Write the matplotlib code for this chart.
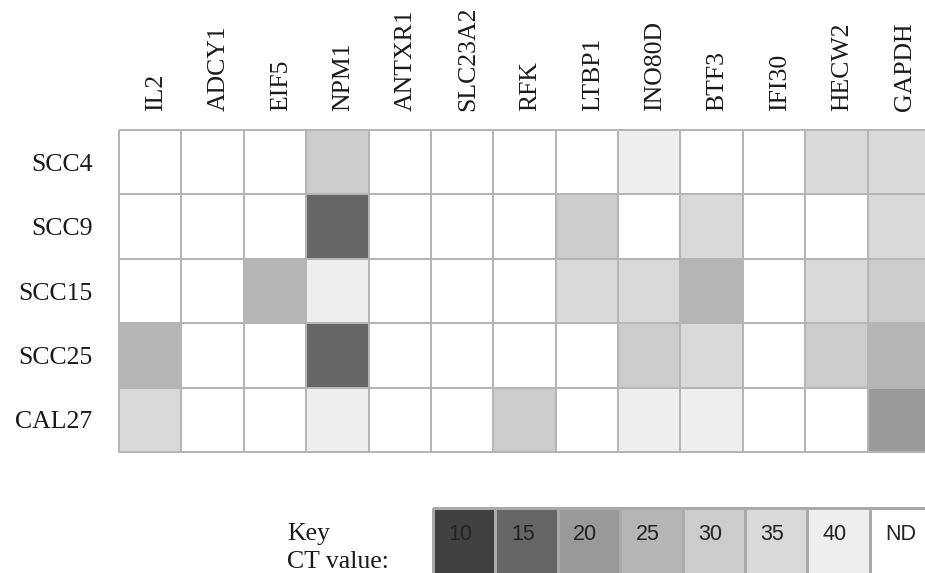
import numpy as np
import matplotlib
matplotlib.use("Agg")
import matplotlib.pyplot as plt
from matplotlib.colors import ListedColormap, BoundaryNorm
from matplotlib.transforms import ScaledTranslation

# Datos
genes = ["IL2", "ADCY1", "EIF5", "NPM1", "ANTXR1", "SLC23A2", "RFK",
         "LTBP1", "INO80D", "BTF3", "IFI30", "HECW2", "GAPDH"]
lineas = ["SCC4", "SCC9", "SCC15", "SCC25", "CAL27"]

# valores CT, None = ND (no detectado)
ct_scc4 = [None, None, None, 30, None, None, None, None, 40, None, None, 35, 35]
ct_scc9 = [None, None, None, 15, None, None, None, 30, None, 35, None, None, 35]
ct_scc15 = [None, None, 25, 40, None, None, None, 35, 35, 25, None, 35, 30]
ct_scc25 = [25, None, None, 15, None, None, None, None, 30, 35, None, 30, 25]
ct_cal27 = [35, None, None, 40, None, None, 30, None, 40, 40, None, None, 20]

key_valores = [10, 15, 20, 25, 30, 35, 40, "ND"]
key_colores = ["#414141", "#666666", "#999999", "#b5b5b5",
               "#cccccc", "#d9d9d9", "#eeeeee", "#ffffff"]

ND = 45
tabla = np.array([[ND if v is None else v for v in fila]
                  for fila in [ct_scc4, ct_scc9, ct_scc15, ct_scc25, ct_cal27]], dtype=float)

cmap = ListedColormap(key_colores)
norm = BoundaryNorm([7.5, 12.5, 17.5, 22.5, 27.5, 32.5, 37.5, 42.5, 47.5], cmap.N)

W, H = 925, 573
fig = plt.figure(figsize=(W / 100, H / 100), dpi=100)

serif = "Liberation Serif"
sans = "Liberation Sans"
borde = "#b5b5b5"

# Heatmap principal
ax = fig.add_axes([119 / W, 1 - 452 / H, 811 / W, 322 / H])
malla = ax.pcolormesh(tabla, cmap=cmap, norm=norm, edgecolors=borde, linewidth=1.2)
malla.set_clip_on(False)
ax.set_xlim(0, len(genes))
ax.set_ylim(len(lineas), 0)
for s in ax.spines.values():
    s.set_visible(False)

ax.set_yticks(np.arange(len(lineas)) + 0.5)
ax.set_yticklabels(lineas, fontfamily=serif, fontsize=18.5, color="#1a1a1a")
ax.set_xticks(np.arange(len(genes)) + 0.5)
ax.set_xticklabels(genes, rotation=90, fontfamily=serif, fontsize=18.5, color="#1a1a1a")
ax.tick_params(axis="x", length=0, pad=14, labelbottom=False, labeltop=True,
               bottom=False, top=False)
ax.tick_params(axis="y", length=0, pad=19)
desplaza = ScaledTranslation(6 / 100, 0, fig.dpi_scale_trans)
for lbl in ax.get_xticklabels():
    lbl.set_transform(lbl.get_transform() + desplaza)

# Leyenda (Key)
axk = fig.add_axes([433 / W, 1 - 590 / H, 499 / W, 82 / H])
tira = np.array([[10, 15, 20, 25, 30, 35, 40, ND]], dtype=float)
mk = axk.pcolormesh(tira, cmap=cmap, norm=norm, edgecolors="#aaaaaa", linewidth=1.0)
mk.set_clip_on(False)
axk.set_xlim(0, len(key_valores))
axk.set_ylim(1, 0)
axk.axis("off")
for i, v in enumerate(key_valores):
    axk.text(i + 0.25, 27 / 82, str(v), ha="left", va="center",
             fontfamily=sans, fontsize=15.5, color="#222222")

fig.text(287 / W, 1 - 540 / H, "Key", ha="left", va="baseline",
         fontfamily=serif, fontsize=18.5, color="#1a1a1a")
fig.text(287 / W, 1 - 568 / H, "CT value:", ha="left", va="baseline",
         fontfamily=serif, fontsize=18.5, color="#1a1a1a")

fig.savefig("out.png", dpi=100)
